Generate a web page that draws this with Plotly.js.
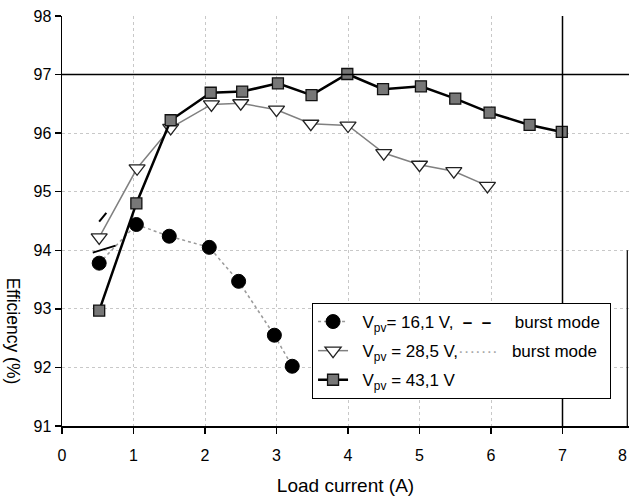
<!DOCTYPE html>
<html>
<head>
<meta charset="utf-8">
<script src="https://cdn.plot.ly/plotly-3.0.1.min.js"></script>
<style>html,body{margin:0;padding:0;background:#fff;}#chart{width:629px;height:497px;}</style>
</head>
<body>
<div id="chart"></div>
<script>
// Data
const x161 = [0.52, 1.04, 1.50, 2.06, 2.47, 2.97, 3.22];
const y161 = [93.78, 94.44, 94.24, 94.05, 93.47, 92.55, 92.02];

const x285 = [0.52, 1.05, 1.52, 2.09, 2.50, 3.00, 3.48, 4.00, 4.50, 5.00, 5.48, 5.95];
const y285 = [94.22, 95.40, 96.09, 96.49, 96.51, 96.40, 96.16, 96.13, 95.66, 95.46, 95.35, 95.10];

const x431 = [0.52, 1.04, 1.52, 2.08, 2.52, 3.02, 3.49, 3.99, 4.49, 5.02, 5.50, 5.98, 6.54, 6.99];
const y431 = [92.97, 94.80, 96.22, 96.69, 96.71, 96.85, 96.65, 97.01, 96.75, 96.80, 96.59, 96.35, 96.14, 96.02];

// burst-mode segments
const burst161x = [0.43, 0.75];
const burst161y = [93.96, 94.08];
const burst285x = [0.52, 0.62];
const burst285y = [94.49, 94.64];

const xTicks = [0, 1, 2, 3, 4, 5, 6, 7];
const yTicks = [91, 92, 93, 94, 95, 96, 97, 98];

const S = "&nbsp;";
const names = [
  S + S + "V<sub>pv</sub>= 16,1 V," + S + S + "<b>–" + S + S + "–</b>" + S + S + S + S + S + "burst mode" + S,
  S + S + "V<sub>pv</sub> = 28,5 V,<span style='color:#aaa'>·······</span>" + S + S + S + "burst mode" + S,
  S + S + "V<sub>pv</sub> = 43,1 V"
];

const FONT = "Liberation Sans, Arial, sans-serif";

const traces = [
  {x: x161, y: y161, name: names[0], legendgroup: "a", mode: "lines+markers",
   line: {color: "#9a9a9a", width: 1.5, dash: "dot"},
   marker: {symbol: "circle", size: 14, color: "#000", line: {color: "#000", width: 1}}},
  {x: x285, y: y285, name: names[1], legendgroup: "b", mode: "lines+markers",
   line: {color: "#808080", width: 1.5},
   marker: {symbol: "triangle-down", size: 14, color: "#fff", line: {color: "#222", width: 1.3}}},
  {x: x431, y: y431, name: names[2], legendgroup: "c", mode: "lines+markers",
   line: {color: "#000", width: 2.5},
   marker: {symbol: "square", size: 11, color: "#777", line: {color: "#111", width: 1.3}}},
  {x: burst161x, y: burst161y, mode: "lines", showlegend: false, hoverinfo: "skip",
   line: {color: "#000", width: 2}},
  {x: burst285x, y: burst285y, mode: "lines", showlegend: false, hoverinfo: "skip",
   line: {color: "#000", width: 2}}
];

const layout = {
  width: 629, height: 497,
  margin: {l: 62, r: 0, t: 16, b: 71},
  paper_bgcolor: "#fff", plot_bgcolor: "#fff",
  font: {family: FONT, size: 16, color: "#000"},
  showlegend: true,
  legend: {x: 0.441, y: 0.30, xanchor: "left", yanchor: "top",
           bgcolor: "#fff", bordercolor: "#000", borderwidth: 1,
           traceorder: "grouped", tracegroupgap: 4,
           font: {family: FONT, size: 17, color: "#000"}},
  xaxis: {range: [0, 7.93], tickvals: xTicks, ticktext: xTicks.map(String),
          ticks: "outside", ticklen: 6, tickcolor: "#000", tickwidth: 1.5,
          ticklabelstandoff: 8,
          showline: true, linecolor: "#000", linewidth: 1.5, zeroline: false,
          showgrid: true, gridcolor: "#c8c8c8", griddash: "dot", gridwidth: 1,
          tickfont: {size: 16, family: FONT},
          title: {text: "Load current (A)", font: {size: 19, family: FONT}, standoff: 16}},
  yaxis: {range: [91, 98], tickvals: yTicks, ticktext: yTicks.map(String),
          ticks: "outside", ticklen: 6, tickcolor: "#000", tickwidth: 1.5,
          showline: true, linecolor: "#000", linewidth: 1.5, zeroline: false,
          showgrid: true, gridcolor: "#c8c8c8", griddash: "dot", gridwidth: 1,
          tickfont: {size: 16, family: FONT}},
  shapes: [
    {type: "line", xref: "paper", yref: "y", x0: 0, x1: 1, y0: 97, y1: 97,
     line: {color: "#000", width: 1.5}},
    {type: "line", xref: "x", yref: "paper", x0: 7, x1: 7, y0: 0, y1: 1,
     line: {color: "#000", width: 1.5}},
    {type: "line", xref: "paper", yref: "y", x0: 0.997, x1: 0.997, y0: 91, y1: 94,
     line: {color: "#000", width: 1.2}}
  ],
  annotations: [
    {text: "Efficiency (%)", textangle: 90, xref: "paper", yref: "paper",
     x: -0.086, y: 0.232, xanchor: "center", yanchor: "middle",
     showarrow: false, font: {size: 17.5, family: FONT}},
    {text: "8", xref: "paper", yref: "paper", x: 1.0, y: 0, xanchor: "right", yanchor: "top",
     yshift: -19, showarrow: false, font: {size: 16, family: FONT}}
  ]
};

Plotly.newPlot("chart", traces, layout, {displayModeBar: false, staticPlot: true});
</script>
</body>
</html>
